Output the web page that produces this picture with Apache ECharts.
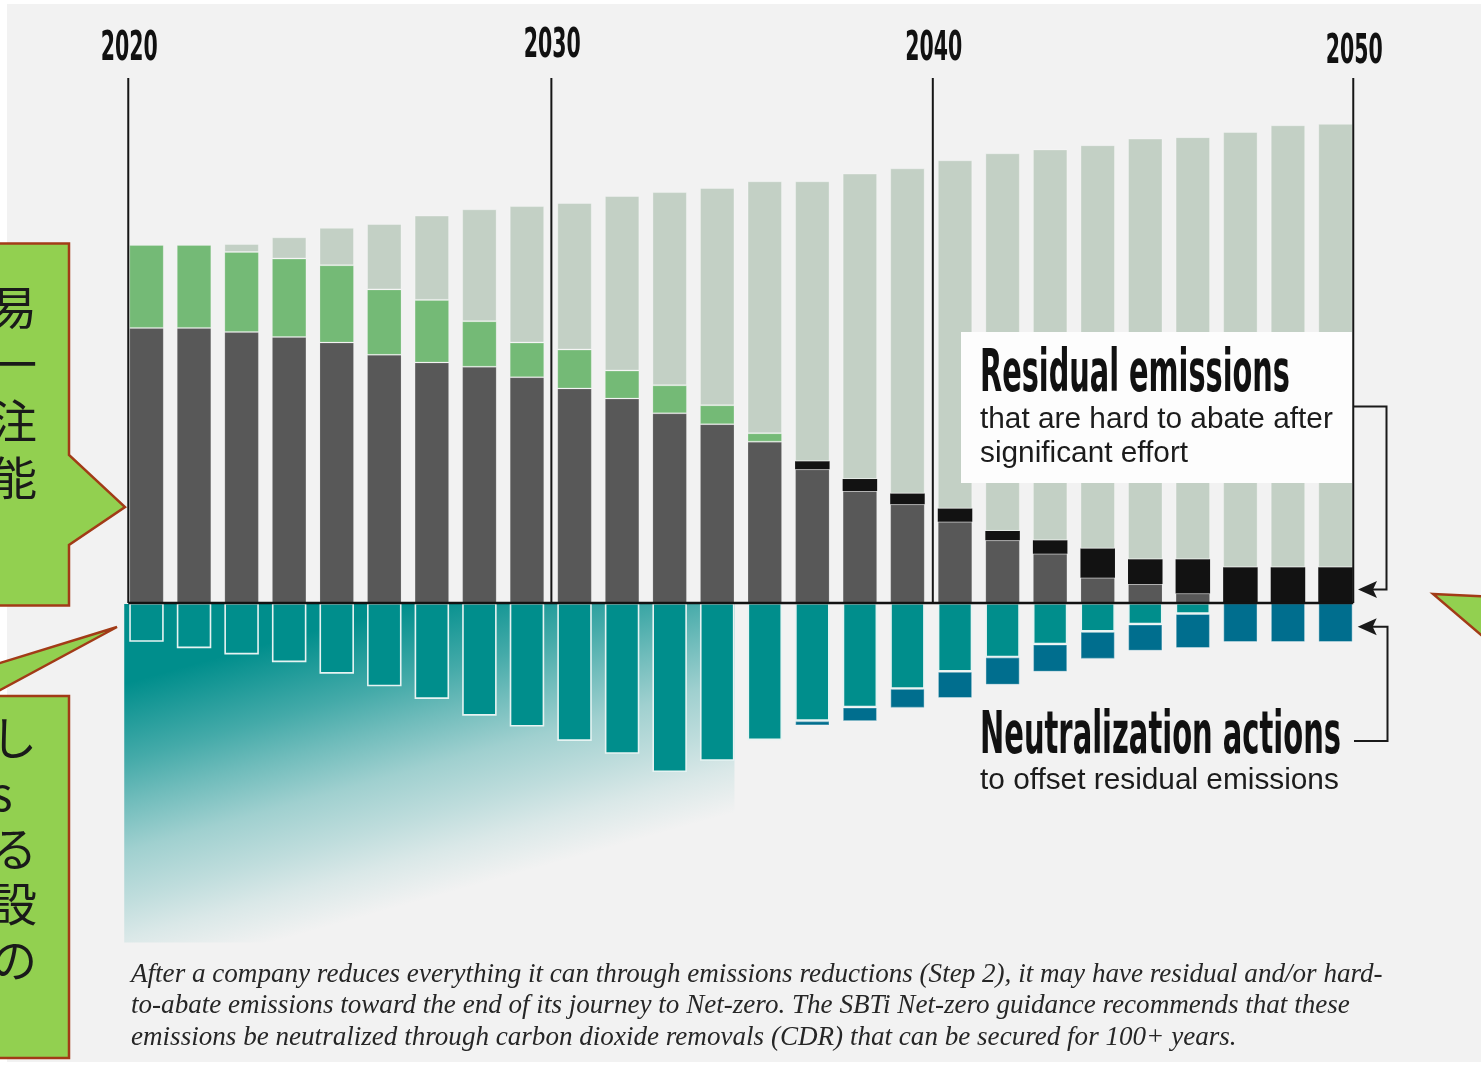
<!DOCTYPE html>
<html>
<head>
<meta charset="utf-8">
<script src="https://cdn.jsdelivr.net/npm/echarts@6/dist/echarts.min.js"></script>
<style>
  html, body { margin: 0; padding: 0; background: #ffffff; }
  #chart { width: 1481px; height: 1067px; }
</style>
</head>
<body>
<div id="chart"></div>
<script>
// ---- Data (one entry per annual bar, 2020 → 2050) ----
// Emissions still released (grey part of each column)
const residualGrey = [78.6, 78.6, 77.4, 76.0, 74.4, 70.9, 68.7, 67.5, 64.5, 61.3, 58.4, 54.2, 51.1,
                      46.1, 38.2, 32.0, 28.2, 23.2, 17.9, 14.1, 7.2, 5.4, 2.7, 0, 0, 0];
// Residual, hard-to-abate emissions (black)
const hardToAbate = [0, 0, 0, 0, 0, 0, 0, 0, 0, 0, 0, 0, 0,
                     0, 2.3, 3.4, 3.1, 3.8, 2.7, 3.8, 8.4, 7.1, 9.8, 10.2, 10.2, 10.2];
// Reductions made this year (green)
const yearReductions = [23.7, 23.7, 22.9, 22.4, 22.1, 18.7, 17.9, 13.0, 9.9, 11.1, 8.0, 8.0, 5.4,
                        2.4, 0, 0, 0, 0, 0, 0, 0, 0, 0, 0, 0, 0];
// Emissions already abated (pale grey-green)
const abated = [0, 0, 2.3, 6.1, 10.7, 18.7, 24.1, 32.0, 39.0, 41.9, 49.9, 55.2, 62.1,
                72.0, 80.0, 87.3, 92.9, 99.5, 107.9, 111.7, 115.2, 120.2, 120.6, 124.4, 126.3, 126.7];
// Neutralization actions (teal) and permanent carbon removals (blue), drawn below zero
const neutralization = [11.1, 12.9, 14.7, 16.9, 20.2, 23.8, 27.4, 32.2, 35.3, 39.4, 43.1, 48.3, 45.1,
                        39.2, 33.7, 29.8, 24.5, 19.6, 15.5, 11.8, 8.2, 6.1, 3.1, 0, 0, 0];
const removals = [0, 0, 0, 0, 0, 0, 0, 0, 0, 0, 0, 0, 0,
                  0, 1.3, 4.0, 5.5, 7.6, 7.9, 7.9, 7.8, 7.6, 9.8, 11.2, 11.2, 11.2];

// Decade markers, placed on the bar-index scale
const yearLabels = ['2020', '2030', '2040', '2050'];
const yearPositions = [-0.383, 8.513, 16.533, 25.373];

// Callout text (Japanese annotation boxes at the left edge)
const calloutUpper = ['易', '一', '注', '能'];
const calloutLower = ['し', 's', 'る', '設', 'の'];

const captionLines = [
  'After a company reduces everything it can through emissions reductions (Step 2), it may have residual and/or hard-',
  'to-abate emissions toward the end of its journey to Net-zero. The SBTi Net-zero guidance recommends that these',
  'emissions be neutralized through carbon dioxide removals (CDR) that can be secured for 100+ years.'
];

// ---- Layout / style ----
const Y_MIN = -97, Y_MAX = 150;
const BAR_W = 34.5;
const COLORS = {
  grey: '#585858', black: '#121212', green: '#74ba76', pale: '#c3d0c5',
  teal: '#008e8c', blue: '#006e8e', bg: '#f2f2f2', ink: '#111111'
};

const chart = echarts.init(document.getElementById('chart'), null, { renderer: 'canvas' });

function barSeries(name, values, sign, color, border) {
  return {
    name, type: 'bar', stack: 'total', barWidth: BAR_W, silent: true,
    data: values.map((v) => (v ? sign * v : '-')),
    itemStyle: { color, borderColor: border[0], borderWidth: border[1] },
    emphasis: { disabled: true }
  };
}

chart.setOption({
  backgroundColor: '#ffffff',
  animation: false,
  grid: { left: 122.7, right: 121.7, top: 78, bottom: 124.5 },
  xAxis: { type: 'category', data: residualGrey.map((_, i) => i), show: false },
  yAxis: { type: 'value', min: Y_MIN, max: Y_MAX, show: false },
  series: [
    barSeries('Emissions', residualGrey, 1, COLORS.grey, ['rgba(255,255,255,0.15)', 1]),
    barSeries('Residual emissions', hardToAbate, 1, COLORS.black, ['rgba(0,0,0,0)', 0]),
    barSeries('Reductions', yearReductions, 1, COLORS.green, ['rgba(255,255,255,0.2)', 1]),
    barSeries('Abated', abated, 1, COLORS.pale, ['rgba(255,255,255,0.3)', 1]),
    barSeries('Neutralization', neutralization, -1, COLORS.teal, ['#e6f3f2', 1.6]),
    barSeries('Removals', removals, -1, COLORS.blue, ['rgba(255,255,255,0.35)', 1.2])
  ]
});

// ---- Decorations, placed from chart coordinates ----
const last = residualGrey.length - 1;
const x0 = chart.convertToPixel({ xAxisIndex: 0 }, 0);
const xN = chart.convertToPixel({ xAxisIndex: 0 }, last);
const xPix = (p) => x0 + (xN - x0) * p / last;          // fractional bar index → pixel
const yPix = (v) => chart.convertToPixel({ yAxisIndex: 0 }, v);

const mctx = document.createElement('canvas').getContext('2d');
function textWidth(str, font) { mctx.font = font; return mctx.measureText(str).width; }

const NARROW = '"Liberation Sans Narrow", "DejaVu Sans Condensed", "Liberation Sans", sans-serif';
const SANS = '"Liberation Sans", Arial, sans-serif';
const SERIF = '"Liberation Serif", "DejaVu Serif", serif';

const elements = [];

// page panel
elements.push({ type: 'rect', z: 0, silent: true,
  shape: { x: 7, y: 4, width: 1474, height: 1058 }, style: { fill: COLORS.bg } });

// fading teal wash behind the early neutralization bars
const fadeLeft = xPix(0) - BAR_W / 2 - 5;
const fadeRight = xPix(12) + BAR_W / 2;
const fadeTop = yPix(0) + 1;
const fadeBottom = yPix(Y_MIN);
elements.push({ type: 'rect', z: 1, silent: true,
  shape: { x: fadeLeft, y: fadeTop, width: fadeRight - fadeLeft, height: fadeBottom - fadeTop },
  style: { fill: new echarts.graphic.LinearGradient(0, 0, 0.162, 1.041, [
    { offset: 0, color: 'rgba(0,142,140,1)' },
    { offset: 0.21, color: 'rgba(0,142,140,1)' },
    { offset: 0.41, color: 'rgba(0,142,140,0.72)' },
    { offset: 0.52, color: 'rgba(0,142,140,0.54)' },
    { offset: 0.65, color: 'rgba(0,142,140,0.34)' },
    { offset: 0.78, color: 'rgba(0,142,140,0.21)' },
    { offset: 0.88, color: 'rgba(0,142,140,0.10)' },
    { offset: 1, color: 'rgba(0,142,140,0)' }
  ]) } });

// decade rules and zero line
yearPositions.forEach((p) => {
  elements.push({ type: 'line', z: 6, silent: true,
    shape: { x1: xPix(p), y1: yPix(Y_MAX), x2: xPix(p), y2: yPix(0) },
    style: { stroke: '#161616', lineWidth: 2 } });
});
elements.push({ type: 'line', z: 6, silent: true,
  shape: { x1: xPix(yearPositions[0]), y1: yPix(0), x2: xPix(yearPositions[yearPositions.length - 1]), y2: yPix(0) },
  style: { stroke: '#121212', lineWidth: 2.5 } });

// decade labels (tall condensed figures)
const yearFont = 'bold 40px ' + NARROW;
const yearScale = 57 / textWidth('2020', yearFont);
const yearCapMid = [46, 43.7, 46.5, 49.5];
yearLabels.forEach((t, i) => {
  elements.push({ type: 'text', z: 10, silent: true,
    x: xPix(yearPositions[i]) + 1, y: yearCapMid[i] + 3.4, scaleX: yearScale,
    style: { text: t, font: yearFont, fill: COLORS.ink, textAlign: 'center', textVerticalAlign: 'middle' } });
});

// "Residual emissions" label box
elements.push({ type: 'rect', z: 8, silent: true,
  shape: { x: 961, y: 332, width: 391, height: 151 }, style: { fill: '#fdfdfd' } });

const titleFont = 'bold 58px ' + NARROW;
const title2Font = 'bold 59px ' + NARROW;
const subSize = 30 * 353 / textWidth('that are hard to abate after', '30px ' + SANS);
const subFont = subSize.toFixed(2) + 'px ' + SANS;
const subMid = 0.245 * subSize;

function title(text, x, capMid, font, width) {
  elements.push({ type: 'text', z: 10, silent: true,
    x, y: capMid + 5, scaleX: width / textWidth(text, font),
    style: { text, font, fill: COLORS.ink, textAlign: 'left', textVerticalAlign: 'middle' } });
}
function sub(text, x, baseline) {
  elements.push({ type: 'text', z: 10, silent: true, x, y: baseline - subMid,
    style: { text, font: subFont, fill: '#1c1c1c', textAlign: 'left', textVerticalAlign: 'middle' } });
}
title('Residual emissions', 980, 371, titleFont, 310);
sub('that are hard to abate after', 980, 427);
sub('significant effort', 980, 461.5);
title('Neutralization actions', 980, 733, title2Font, 361);
sub('to offset residual emissions', 980, 788.5);

// brackets with arrows pointing at the 2050 bar
const bracketStyle = { stroke: '#1a1a1a', lineWidth: 2, fill: null };
elements.push({ type: 'polyline', z: 10, silent: true,
  shape: { points: [[1354, 406.5], [1386.5, 406.5], [1386.5, 589.5], [1372, 589.5]] }, style: bracketStyle });
elements.push({ type: 'polygon', z: 10, silent: true,
  shape: { points: [[1358, 589.5], [1377, 581], [1373, 589.5], [1377, 598]] }, style: { fill: '#1a1a1a' } });
elements.push({ type: 'polyline', z: 10, silent: true,
  shape: { points: [[1354, 741], [1387.5, 741], [1387.5, 626.7], [1372, 626.7]] }, style: bracketStyle });
elements.push({ type: 'polygon', z: 10, silent: true,
  shape: { points: [[1357.7, 626.7], [1376.7, 618.2], [1372.7, 626.7], [1376.7, 635.2]] }, style: { fill: '#1a1a1a' } });

// caption
const capBase = 24;
const capSize = capBase * 1252 / textWidth(captionLines[0], 'italic ' + capBase + 'px ' + SERIF);
const capFont = 'italic ' + capSize.toFixed(2) + 'px ' + SERIF;
const capBaselines = [981.7, 1013.3, 1045];
captionLines.forEach((t, i) => {
  elements.push({ type: 'text', z: 10, silent: true, x: 131, y: capBaselines[i] - 0.26 * capSize,
    style: { text: t, font: capFont, fill: '#262626', textAlign: 'left', textVerticalAlign: 'middle' } });
});

// green callouts
const calloutStyle = { fill: '#92d050', stroke: '#a23b17', lineWidth: 2.5 };
elements.push({ type: 'polygon', z: 12, silent: true,
  shape: { points: [[-20, 243.5], [69, 243.5], [69, 455], [125, 507], [69, 545], [69, 605.5], [-20, 605.5]] },
  style: calloutStyle });
elements.push({ type: 'polygon', z: 12, silent: true,
  shape: { points: [[-220, 696], [-107, 696], [117, 627], [-11, 696], [69, 696], [69, 1058], [-220, 1058]] },
  style: calloutStyle });
elements.push({ type: 'polygon', z: 12, silent: true,
  shape: { points: [[1433, 594], [1500, 597], [1500, 651]] }, style: calloutStyle });

const cjkFont = '46px "Noto Sans CJK JP", sans-serif';
calloutUpper.forEach((t, i) => {
  elements.push({ type: 'text', z: 13, silent: true, x: -9, y: 307 + 57 * i,
    style: { text: t, font: cjkFont, fill: '#1a1a1a', textAlign: 'left', textVerticalAlign: 'middle' } });
});
calloutLower.forEach((t, i) => {
  elements.push({ type: 'text', z: 13, silent: true, x: -9, y: 738 + 55.3 * i,
    style: { text: t, font: cjkFont, fill: '#1a1a1a', textAlign: 'left', textVerticalAlign: 'middle' } });
});

chart.setOption({ graphic: { elements } });
</script>
</body>
</html>
